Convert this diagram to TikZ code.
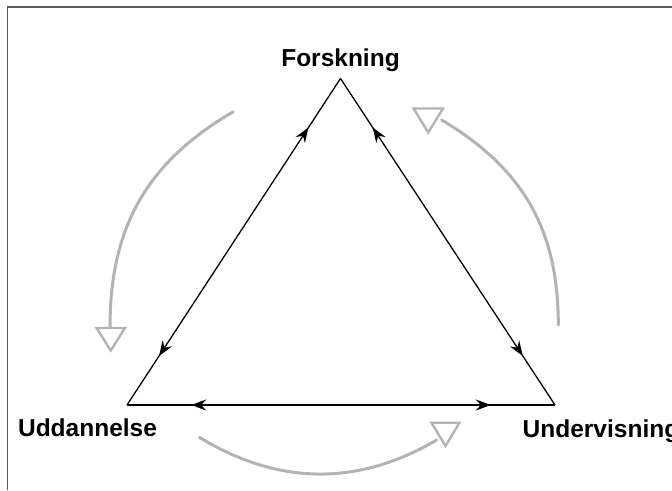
\documentclass[tikz,border=0pt]{standalone}
\usepackage{fontspec}
\setmainfont{Liberation Sans}
\usetikzlibrary{arrows.meta,decorations.markings}
\definecolor{framegray}{HTML}{5A5A5A}
\definecolor{arcgray}{HTML}{B3B3B3}
\tikzset{
  edgetip/.tip={Stealth[length=15pt,width=11pt,inset=5pt]},
  edgeline/.style={line width=1.3pt, black, postaction=decorate,
    decoration={markings,
      mark=at position #1 with {\arrowreversed{edgetip}},
      mark=at position 1-#1 with {\arrow{edgetip}}}},
  arcline/.style={line width=3pt, arcgray, line cap=round},
  hollowtri/.style={line width=2.4pt, arcgray, fill=white, line join=miter},
  label/.style={font=\bfseries\fontsize{24.5}{28}\selectfont, inner sep=0pt},
  framestyle/.style={line width=1.6pt, framegray}
}
\begin{document}
\begin{tikzpicture}[x=1pt,y=-1pt]
\useasboundingbox (0,0) rectangle (672,490);
% frame (only top and left edges are inside the picture)
\coordinate (fbl) at (7.5,490);
\coordinate (ftl) at (7.5,7);
\coordinate (ftr) at (672,7);
\draw[framestyle] (fbl) -- (ftl) -- (ftr);

% vertices
\coordinate (F) at (340.5,78.5);
\coordinate (U) at (127,405);
\coordinate (D) at (555,405);

% labels
\node[label, anchor=base] (lF) at (340.5,66.5) {Forskning};
\node[label, anchor=base] (lU) at (87.5,436.5) {Uddannelse};
\node[label, anchor=base west] (lD) at (522.5,437) {Undervisning};

% triangle edges with arrows
\draw[edgeline=0.15] (F) -- (U);
\draw[edgeline=0.15] (F) -- (D);
\draw[edgeline=0.15] (U) -- (D);

% gray cycle arcs
\coordinate (a1s) at (233.3,111.7);
\coordinate (a1e) at (110,327);
\draw[arcline] (a1s) .. controls (147,162.1) and (110,227) .. (a1e);
\coordinate (a2s) at (558.3,325);
\coordinate (a2e) at (441.7,120);
\draw[arcline] (a2s) .. controls (558.3,230) and (523.3,168.6) .. (a2e);
\coordinate (a3s) at (199.3,437.3);
\coordinate (a3e) at (436.7,440);
\draw[arcline] (a3s) .. controls (278.4,485.4) and (357.6,486.3) .. (a3e);

% hollow arrowheads (all pointing down)
\draw[hollowtri] (96.5,328) -- (125,328) -- (110.8,350.5) -- cycle;
\draw[hollowtri] (413.5,108.5) -- (443,108.5) -- (428.3,132.5) -- cycle;
\draw[hollowtri] (431.5,422.7) -- (459.5,422.7) -- (445.5,446) -- cycle;
\end{tikzpicture}
\end{document}
